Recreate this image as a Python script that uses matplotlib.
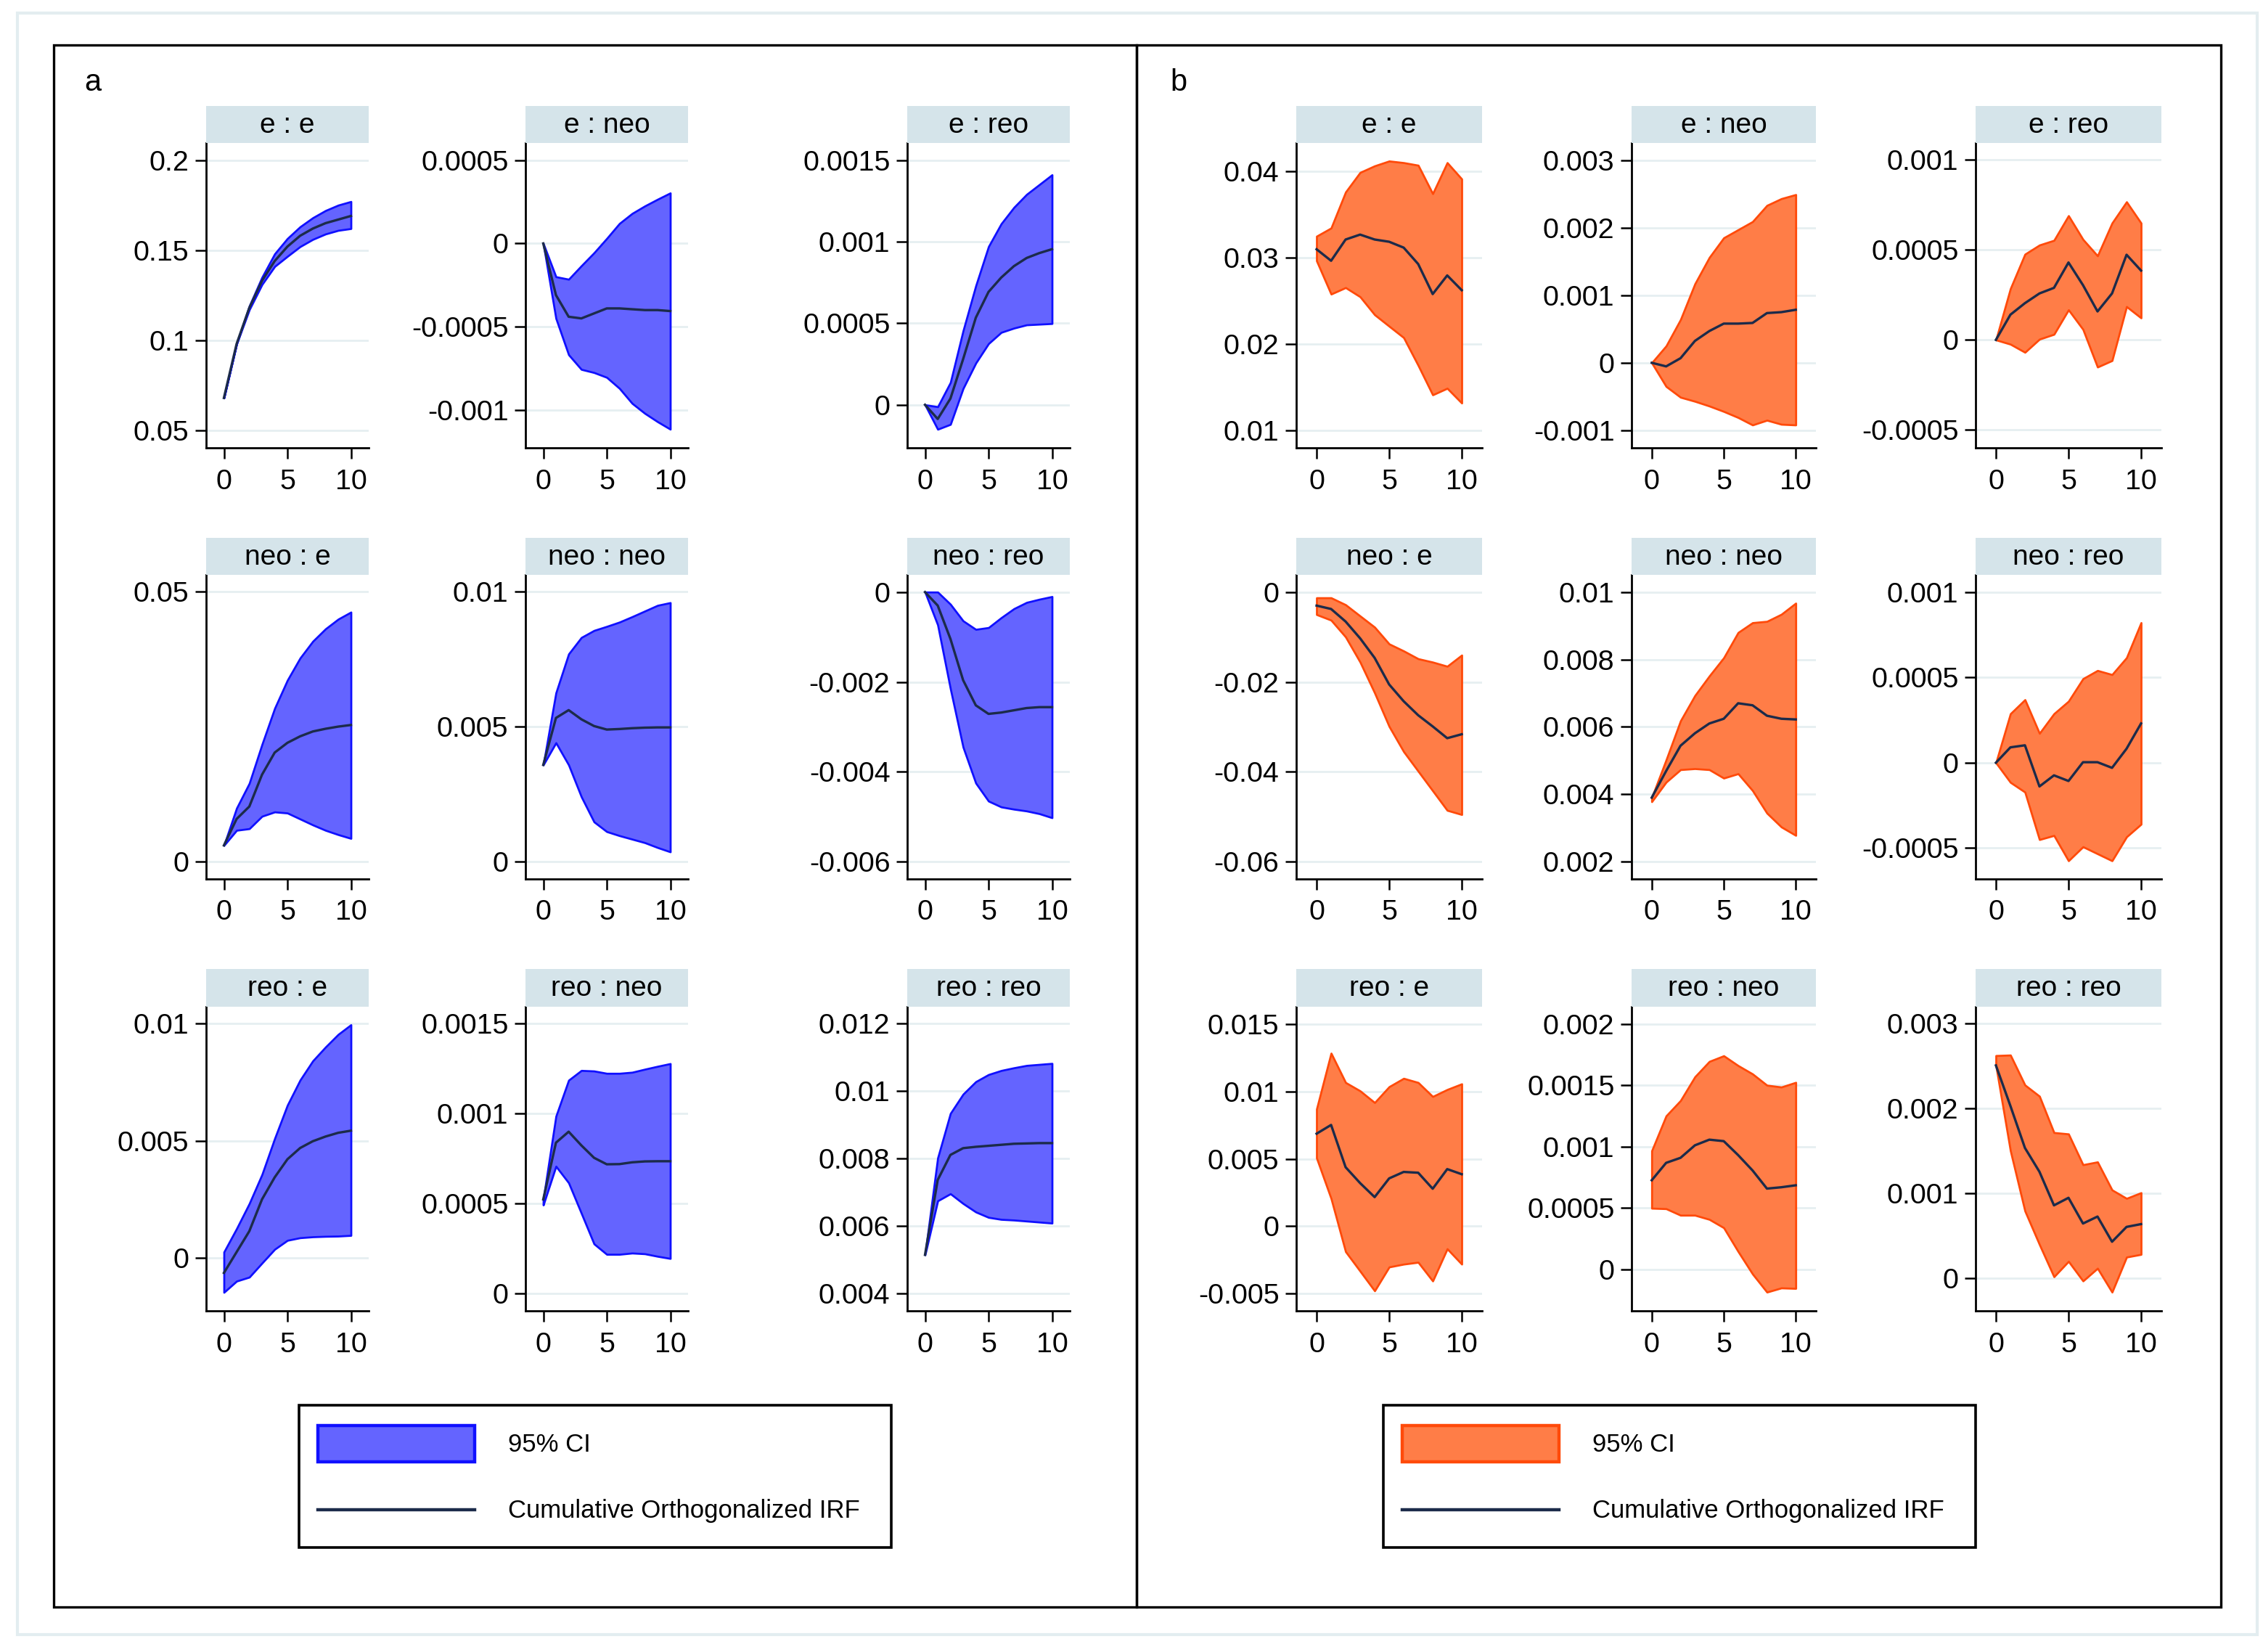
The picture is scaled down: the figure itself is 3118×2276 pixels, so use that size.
import numpy as np
import matplotlib.pyplot as plt
from matplotlib.patches import Rectangle
from matplotlib.lines import Line2D

plt.rcParams['font.family'] = ['Liberation Sans', 'DejaVu Sans']

steps = list(range(11))

# ---------------- panel a (blue) ----------------
a_ee_irf = [0.068, 0.098, 0.118, 0.133, 0.144, 0.152, 0.158, 0.162, 0.165, 0.167, 0.169]
a_ee_lo = [0.068, 0.098, 0.117, 0.131, 0.141, 0.1466, 0.152, 0.156, 0.159, 0.161, 0.162]
a_ee_hi = [0.068, 0.098, 0.119, 0.135, 0.148, 0.1565, 0.163, 0.168, 0.172, 0.175, 0.177]
a_ee_ticks = [0.05, 0.1, 0.15, 0.2]

a_eneo_irf = [0, -0.00031, -0.00044, -0.00045, -0.00042, -0.00039, -0.00039, -0.000395, -0.0004, -0.0004, -0.000406]
a_eneo_lo = [0, -0.00045, -0.000668, -0.000756, -0.000775, -0.000804, -0.00087, -0.00096, -0.00102, -0.00107, -0.001115]
a_eneo_hi = [0, -0.0002, -0.000215, -0.000134, -0.000056, 0.00003, 0.00012, 0.00018, 0.000225, 0.000265, 0.000303]
a_eneo_ticks = [-0.001, -0.0005, 0, 0.0005]

a_ereo_irf = [0, -0.000087, 0.000038, 0.00028, 0.000534, 0.000692, 0.00078, 0.00085, 0.0009, 0.00093, 0.000954]
a_ereo_lo = [0, -0.00015, -0.00012, 0.0001, 0.000256, 0.000375, 0.000444, 0.00047, 0.00049, 0.000494, 0.000498]
a_ereo_hi = [0, -0.000012, 0.000137, 0.000454, 0.00073, 0.00097, 0.00111, 0.00121, 0.00129, 0.00135, 0.00141]
a_ereo_ticks = [0, 0.0005, 0.001, 0.0015]

a_neoe_irf = [0.003, 0.0079, 0.0102, 0.0161, 0.0202, 0.022, 0.0232, 0.0241, 0.0246, 0.025, 0.0253]
a_neoe_lo = [0.003, 0.0058, 0.0061, 0.0084, 0.0092, 0.009, 0.0079, 0.0068, 0.0058, 0.005, 0.0043]
a_neoe_hi = [0.003, 0.0099, 0.0145, 0.0217, 0.0284, 0.0336, 0.0377, 0.0408, 0.0431, 0.0449, 0.0462]
a_neoe_ticks = [0, 0.05]

a_neoneo_irf = [0.00358, 0.00532, 0.00561, 0.00527, 0.00502, 0.00489, 0.00491, 0.00494, 0.00496, 0.00497, 0.00497]
a_neoneo_lo = [0.00358, 0.0044, 0.00358, 0.0024, 0.00147, 0.00111, 0.00096, 0.00083, 0.0007, 0.00052, 0.00036]
a_neoneo_hi = [0.00358, 0.00625, 0.00769, 0.0083, 0.00856, 0.00871, 0.00887, 0.00907, 0.00928, 0.00949, 0.00959]
a_neoneo_ticks = [0, 0.005, 0.01]

a_neoreo_irf = [0, -0.0003, -0.00104, -0.00196, -0.00252, -0.00271, -0.00268, -0.00263, -0.00258, -0.00256, -0.00256]
a_neoreo_lo = [0, -0.00073, -0.00215, -0.00345, -0.00425, -0.00465, -0.00478, -0.00483, -0.00487, -0.00493, -0.00502]
a_neoreo_hi = [0, 0, -0.00027, -0.00064, -0.00083, -0.00079, -0.00057, -0.00037, -0.00023, -0.00016, -0.0001]
a_neoreo_ticks = [-0.006, -0.004, -0.002, 0]

a_reoe_irf = [-0.00064, 0.00025, 0.00114, 0.0025, 0.00344, 0.00421, 0.00469, 0.00498, 0.00518, 0.00534, 0.00543]
a_reoe_lo = [-0.00147, -0.00099, -0.00082, -0.00022, 0.00037, 0.00075, 0.00086, 0.0009, 0.00092, 0.00093, 0.00096]
a_reoe_hi = [0.00025, 0.00125, 0.00232, 0.00356, 0.0051, 0.00652, 0.00759, 0.00841, 0.009, 0.00954, 0.00995]
a_reoe_ticks = [0, 0.005, 0.01]

a_reoneo_irf = [0.000524, 0.000839, 0.0009, 0.000824, 0.000755, 0.000719, 0.00072, 0.00073, 0.000735, 0.000736, 0.000736]
a_reoneo_lo = [0.000493, 0.000708, 0.000616, 0.000447, 0.000277, 0.000219, 0.000219, 0.000226, 0.000222, 0.000208, 0.000196]
a_reoneo_hi = [0.000524, 0.000986, 0.001186, 0.00124, 0.001237, 0.001224, 0.001224, 0.00123, 0.001247, 0.001263, 0.001278]
a_reoneo_ticks = [0, 0.0005, 0.001, 0.0015]

a_reoreo_irf = [0.00515, 0.00737, 0.00811, 0.00831, 0.00835, 0.00838, 0.00841, 0.00844, 0.00845, 0.00846, 0.00846]
a_reoreo_lo = [0.00515, 0.00675, 0.00696, 0.00667, 0.00642, 0.00626, 0.0062, 0.00618, 0.00615, 0.00612, 0.00609]
a_reoreo_hi = [0.00515, 0.00802, 0.00934, 0.00991, 0.01028, 0.01049, 0.01061, 0.01069, 0.01076, 0.01079, 0.01082]
a_reoreo_ticks = [0.004, 0.006, 0.008, 0.01, 0.012]

# ---------------- panel b (orange) ----------------
b_ee_irf = [0.03095, 0.02962, 0.03208, 0.03265, 0.03208, 0.03182, 0.03114, 0.02924, 0.02576, 0.02792, 0.02621]
b_ee_lo = [0.02962, 0.02576, 0.02651, 0.02545, 0.02337, 0.02204, 0.02072, 0.0175, 0.01409, 0.01485, 0.01314]
b_ee_hi = [0.03246, 0.03341, 0.03758, 0.03985, 0.04061, 0.04117, 0.04098, 0.04068, 0.03739, 0.04098, 0.03909]
b_ee_ticks = [0.01, 0.02, 0.03, 0.04]

b_eneo_irf = [0, -0.000053, 0.000068, 0.000324, 0.00047, 0.00058, 0.00058, 0.00059, 0.000736, 0.00075, 0.000785]
b_eneo_lo = [0, -0.00035, -0.00051, -0.00057, -0.00064, -0.00072, -0.00081, -0.00092, -0.00085, -0.00091, -0.00092]
b_eneo_hi = [0, 0.00025, 0.00064, 0.00117, 0.00156, 0.00185, 0.00197, 0.00209, 0.00233, 0.00243, 0.00249]
b_eneo_ticks = [-0.001, 0, 0.001, 0.002, 0.003]

b_ereo_irf = [0, 0.00014, 0.000204, 0.000258, 0.000289, 0.00043, 0.000304, 0.000158, 0.000258, 0.000473, 0.000385]
b_ereo_lo = [0, -0.000024, -0.000069, 0.000004, 0.000031, 0.000167, 0.000058, -0.000151, -0.000115, 0.000185, 0.000122]
b_ereo_hi = [0, 0.000285, 0.000476, 0.000527, 0.000553, 0.00069, 0.000558, 0.000467, 0.000649, 0.000767, 0.000649]
b_ereo_ticks = [-0.0005, 0, 0.0005, 0.001]

b_neoe_irf = [-0.00299, -0.00374, -0.00654, -0.01028, -0.01464, -0.02056, -0.0243, -0.02742, -0.02991, -0.03253, -0.03165]
b_neoe_lo = [-0.00498, -0.00623, -0.00997, -0.01558, -0.02243, -0.02991, -0.03552, -0.03988, -0.04424, -0.0486, -0.04954]
b_neoe_hi = [-0.00125, -0.00125, -0.0028, -0.0053, -0.00779, -0.01153, -0.01309, -0.01483, -0.01558, -0.01651, -0.01402]
b_neoe_ticks = [-0.06, -0.04, -0.02, 0]

b_neoneo_irf = [0.0039, 0.00469, 0.00544, 0.00581, 0.0061, 0.00624, 0.0067, 0.00664, 0.00633, 0.00624, 0.00622]
b_neoneo_lo = [0.00378, 0.00436, 0.00473, 0.00476, 0.00473, 0.00448, 0.00461, 0.00411, 0.00344, 0.00303, 0.00278]
b_neoneo_hi = [0.0039, 0.00502, 0.00618, 0.00693, 0.00751, 0.00805, 0.0088, 0.00909, 0.00913, 0.00934, 0.00967]
b_neoneo_ticks = [0.002, 0.004, 0.006, 0.008, 0.01]

b_neoreo_irf = [0, 0.00009, 0.000102, -0.000139, -0.000074, -0.000107, 0.000003, 0.000003, -0.00003, 0.000082, 0.00023]
b_neoreo_lo = [0, -0.000115, -0.000172, -0.00045, -0.000426, -0.000574, -0.000492, -0.000533, -0.000574, -0.000434, -0.00036]
b_neoreo_hi = [0, 0.000287, 0.000369, 0.000172, 0.000287, 0.00036, 0.000492, 0.00054, 0.000516, 0.000615, 0.00082]
b_neoreo_ticks = [-0.0005, 0, 0.0005, 0.001]

b_reoe_irf = [0.00687, 0.00752, 0.00438, 0.0032, 0.00216, 0.00355, 0.00403, 0.00397, 0.00278, 0.00424, 0.00386]
b_reoe_lo = [0.00507, 0.00206, -0.00189, -0.00334, -0.0048, -0.00303, -0.00282, -0.00268, -0.00407, -0.00168, -0.00282]
b_reoe_hi = [0.0087, 0.01285, 0.01067, 0.01005, 0.00918, 0.01036, 0.01098, 0.01067, 0.00963, 0.01015, 0.01057]
b_reoe_ticks = [-0.005, 0, 0.005, 0.01, 0.015]

b_reoneo_irf = [0.000725, 0.000867, 0.000908, 0.00101, 0.001056, 0.001044, 0.00093, 0.000805, 0.000657, 0.000668, 0.000684]
b_reoneo_lo = [0.000497, 0.000493, 0.00044, 0.00044, 0.000406, 0.000338, 0.000144, -0.000039, -0.000187, -0.000153, -0.000157]
b_reoneo_hi = [0.000965, 0.00125, 0.001375, 0.001569, 0.001694, 0.00174, 0.00166, 0.001592, 0.0015, 0.001485, 0.001523]
b_reoneo_ticks = [0, 0.0005, 0.001, 0.0015, 0.002]

b_reoreo_irf = [0.002508, 0.00203, 0.001535, 0.001254, 0.000858, 0.000947, 0.000644, 0.000726, 0.000429, 0.000604, 0.000637]
b_reoreo_lo = [0.002508, 0.001502, 0.000792, 0.000396, 0.0000165, 0.000198, -0.000033, 0.000116, -0.000165, 0.000248, 0.00028]
b_reoreo_hi = [0.002624, 0.00263, 0.002277, 0.002145, 0.001716, 0.0017, 0.001337, 0.00137, 0.00104, 0.00094, 0.001007]
b_reoreo_ticks = [0, 0.001, 0.002, 0.003]

titles = ['e : e', 'e : neo', 'e : reo',
          'neo : e', 'neo : neo', 'neo : reo',
          'reo : e', 'reo : neo', 'reo : reo']
legend_labels = ['95% CI', 'Cumulative Orthogonalized IRF']

a_panels = [
    (a_ee_irf, a_ee_lo, a_ee_hi, a_ee_ticks, (0.0403, 0.2095)),
    (a_eneo_irf, a_eneo_lo, a_eneo_hi, a_eneo_ticks, (-0.001227, 0.000603)),
    (a_ereo_irf, a_ereo_lo, a_ereo_hi, a_ereo_ticks, (-0.000264, 0.001605)),
    (a_neoe_irf, a_neoe_lo, a_neoe_hi, a_neoe_ticks, (-0.00319, 0.0531)),
    (a_neoneo_irf, a_neoneo_lo, a_neoneo_hi, a_neoneo_ticks, (-0.00064, 0.01062)),
    (a_neoreo_irf, a_neoreo_lo, a_neoreo_hi, a_neoreo_ticks, (-0.00638, 0.000383)),
    (a_reoe_irf, a_reoe_lo, a_reoe_hi, a_reoe_ticks, (-0.00226, 0.01072)),
    (a_reoneo_irf, a_reoneo_lo, a_reoneo_hi, a_reoneo_ticks, (-0.000095, 0.001594)),
    (a_reoreo_irf, a_reoreo_lo, a_reoreo_hi, a_reoreo_ticks, (0.00349, 0.0125)),
]
b_panels = [
    (b_ee_irf, b_ee_lo, b_ee_hi, b_ee_ticks, (0.00795, 0.04326)),
    (b_eneo_irf, b_eneo_lo, b_eneo_hi, b_eneo_ticks, (-0.001259, 0.003254)),
    (b_ereo_irf, b_ereo_lo, b_ereo_hi, b_ereo_ticks, (-0.0006, 0.001094)),
    (b_neoe_irf, b_neoe_lo, b_neoe_hi, b_neoe_ticks, (-0.06387, 0.00386)),
    (b_neoneo_irf, b_neoneo_lo, b_neoneo_hi, b_neoneo_ticks, (0.00149, 0.01051)),
    (b_neoreo_irf, b_neoreo_lo, b_neoreo_hi, b_neoreo_ticks, (-0.00068, 0.0011)),
    (b_reoe_irf, b_reoe_lo, b_reoe_hi, b_reoe_ticks, (-0.00629, 0.0163)),
    (b_reoneo_irf, b_reoneo_lo, b_reoneo_hi, b_reoneo_ticks, (-0.00034, 0.00214)),
    (b_reoreo_irf, b_reoreo_lo, b_reoreo_hi, b_reoreo_ticks, (-0.000386, 0.0032)),
]

# ---------------- layout (in half-size pixel units) ----------------
W, H = 1559.0, 1138.0
fig = plt.figure(figsize=(15.59, 11.38), dpi=200)
fig.patch.set_facecolor('white')


def fx(px):
    return px / W


def fy(py):
    return 1 - py / H


strip_tops = [73, 370.5, 667.6]
axes_tops = [98.5, 396, 693.5]
axes_bots = [308.5, 605.4, 903]
cols_a = [(142, 254), (362, 474), (625, 737)]
cols_b = [(893, 1021), (1124, 1251), (1361, 1489)]

strip_color = '#d5e4ea'
grid_color = '#e6eff1'
line_color = '#1c2b4a'
blue_fill, blue_edge = '#6464ff', '#1010ff'
orange_fill, orange_edge = '#ff7d47', '#ff4a0a'


def fmt(v):
    if v == 0:
        return '0'
    return np.format_float_positional(v, trim='-')


def draw_side(panels, cols, fill, edge):
    for i, (irf, lo, hi, ticks, ylim) in enumerate(panels):
        r, c = divmod(i, 3)
        x0, x1 = cols[c]
        top, bot = axes_tops[r], axes_bots[r]
        ax = fig.add_axes([fx(x0), fy(bot), fx(x1) - fx(x0), fy(top) - fy(bot)])
        ax.fill_between(steps, lo, hi, facecolor=fill, edgecolor=edge, linewidth=1.0, zorder=2)
        ax.plot(steps, irf, color=line_color, linewidth=1.2, zorder=3)
        ax.set_xlim(-1.4, 11.4)
        ax.set_ylim(*ylim)
        ax.set_xticks([0, 5, 10])
        ax.set_yticks(ticks)
        ax.set_yticklabels([fmt(t) for t in ticks])
        ax.grid(axis='y', color=grid_color, linewidth=1.0, zorder=0)
        ax.set_axisbelow(True)
        for s in ['top', 'right']:
            ax.spines[s].set_visible(False)
        for s in ['left', 'bottom']:
            ax.spines[s].set_linewidth(1.0)
            ax.spines[s].set_color('black')
        ax.tick_params(axis='x', length=5.3, width=0.9, labelsize=14.2, pad=5)
        ax.tick_params(axis='y', length=5.3, width=0.9, labelsize=14.2, pad=3.2)

        sax = fig.add_axes([fx(x0), fy(top), fx(x1) - fx(x0), fy(strip_tops[r]) - fy(top)])
        sax.set_xlim(0, 1)
        sax.set_ylim(0, 1)
        sax.axis('off')
        sax.add_patch(Rectangle((0, 0), 1, 1, facecolor=strip_color, edgecolor='none'))
        sax.text(0.5, 0.48, titles[i], ha='center', va='center', fontsize=14)


draw_side(a_panels, cols_a, blue_fill, blue_edge)
draw_side(b_panels, cols_b, orange_fill, orange_edge)

# outer frame and panel boxes
fig.add_artist(Rectangle((fx(12), fy(1126)), fx(1555) - fx(12), fy(9) - fy(1126),
                         transform=fig.transFigure, facecolor='none', edgecolor='#e3edf0', linewidth=1.5))
for bx0, bx1 in [(37, 783), (783, 1530)]:
    fig.add_artist(Rectangle((fx(bx0), fy(1107)), fx(bx1) - fx(bx0), fy(31) - fy(1107),
                             transform=fig.transFigure, facecolor='none', edgecolor='black', linewidth=1.2))

fig.text(fx(64), fy(57), 'a', ha='center', va='center', fontsize=15)
fig.text(fx(812), fy(57), 'b', ha='center', va='center', fontsize=15)

# legends
for lx, fill, edge in [(206, blue_fill, blue_edge), (953, orange_fill, orange_edge)]:
    fig.add_artist(Rectangle((fx(lx), fy(1066)), fx(lx + 408) - fx(lx), fy(968) - fy(1066),
                             transform=fig.transFigure, facecolor='white', edgecolor='black', linewidth=1.3))
    fig.add_artist(Rectangle((fx(lx + 13), fy(1007)), fx(lx + 121) - fx(lx + 13), fy(982) - fy(1007),
                             transform=fig.transFigure, facecolor=fill, edgecolor=edge, linewidth=1.6))
    fig.add_artist(Line2D([fx(lx + 13), fx(lx + 121)], [fy(1040), fy(1040)],
                          transform=fig.transFigure, color=line_color, linewidth=1.6))
    fig.text(fx(lx + 144), fy(995), legend_labels[0], ha='left', va='center', fontsize=12.5)
    fig.text(fx(lx + 144), fy(1041), legend_labels[1], ha='left', va='center', fontsize=12.5)

fig.savefig('out.png', dpi=200, facecolor='white')
